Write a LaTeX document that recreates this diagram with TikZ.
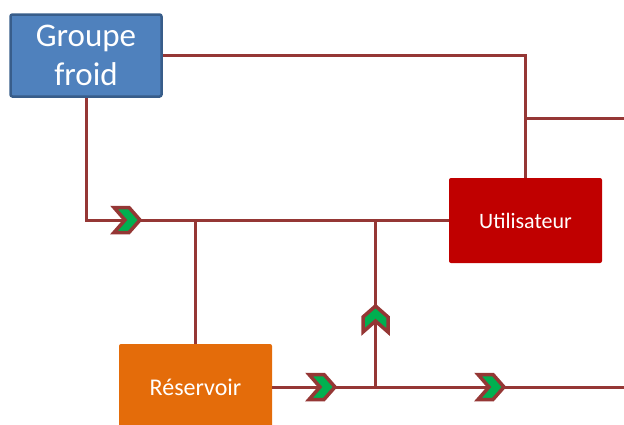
\documentclass[tikz,border=0pt]{standalone}
\usepackage{fontspec}
\setmainfont{Carlito}
\definecolor{wire}{HTML}{953735}
\definecolor{gfblue}{HTML}{4F81BD}
\definecolor{gfedge}{HTML}{385D8A}
\definecolor{utred}{HTML}{C00000}
\definecolor{resorange}{HTML}{E46C0A}
\definecolor{chgreen}{HTML}{00B050}
\tikzset{
  box/.style={rectangle, rounded corners=2pt, text=white, align=center, inner sep=0pt},
  wireline/.style={draw=wire, line width=3pt},
  chev/.pic={\filldraw[fill=chgreen, draw=wire, line width=3.5pt, line join=miter]
     (-26,-12.5) -- (-11,-12.5) -- (0,0) -- (-11,12.5) -- (-26,12.5) -- (-15,0) -- cycle;}
}
\begin{document}
\begin{tikzpicture}[x=1pt,y=-1pt]
\useasboundingbox (0,0) rectangle (624,424);
\clip (0,0) rectangle (624,424);
\node[box, fill=gfblue, draw=gfedge, line width=2.5pt, minimum width=151pt, minimum height=82pt,
      font=\fontsize{33}{39}\selectfont] (gf) at (86,55.5) {Groupe\\froid};
\node[box, fill=utred, minimum width=153pt, minimum height=85pt,
      font=\fontsize{22}{26}\selectfont] (ut) at (525.5,220.5) {Utilisateur};
\node[box, fill=resorange, minimum width=153pt, minimum height=86pt,
      font=\fontsize{24}{28}\selectfont] (res) at (195.5,387) {Réservoir};
\coordinate (j1) at (525.5,118);
\coordinate (e1) at (624,118);
\coordinate (j2) at (195.5,220);
\coordinate (j3) at (375.5,220);
\coordinate (j4) at (375.5,387);
\coordinate (e2) at (624,387);
\draw[wireline] (gf.east) -| (ut.north);
\draw[wireline] (j1) -- (e1);
\draw[wireline] (gf.south) |- (ut.west);
\draw[wireline] (j2) -- (res.north);
\draw[wireline] (j4) -- (j3);
\draw[wireline] (res.east) -- (e2);
\pic at (140,220) {chev};
\pic at (335,387) {chev};
\pic at (504,387) {chev};
\pic[rotate=90] at (375.5,306) {chev};
\end{tikzpicture}
\end{document}
